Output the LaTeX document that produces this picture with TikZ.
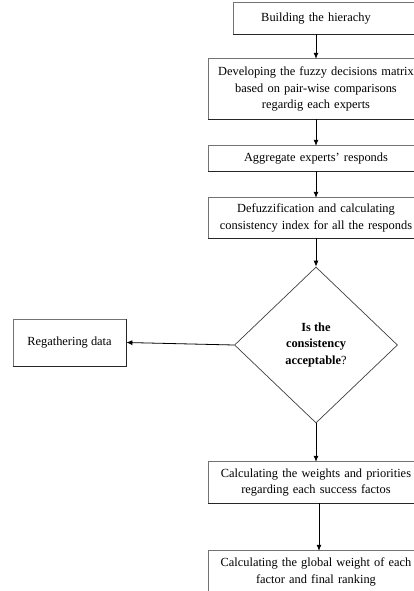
\documentclass[tikz,border=0pt]{standalone}
\usepackage{fontspec}
\setmainfont{Liberation Serif}
\usetikzlibrary{shapes.geometric,arrows.meta}
\pgfdeclarelayer{bg}
\pgfsetlayers{bg,main}
\begin{document}
\begin{tikzpicture}[x=1pt,y=-1pt,
  txt/.style={text width=240pt, align=center, inner sep=0pt,
    font=\fontsize{12.4}{16.3}\selectfont},
  frame/.style={draw=black!55, line width=0.7pt},
  shadowline/.style={draw=black!85, line width=1.1pt},
  arr/.style={-{Latex[length=6pt,width=5pt]}, line width=0.8pt},
  decision/.style={diamond, draw=black!75, line width=0.7pt, inner sep=0pt,
    minimum width=163pt, minimum height=156pt, align=center,
    font=\fontsize{12.4}{16.5}\selectfont},
  sidebox/.style={draw=black!55, line width=0.7pt, minimum width=113pt,
    minimum height=47pt, inner sep=0pt, font=\fontsize{12.4}{16.3}\selectfont}]
\useasboundingbox (0,0) rectangle (413,591);
\begin{pgfonlayer}{bg}
\fill[white] (0,0) rectangle (413,591);
\end{pgfonlayer}
\coordinate (L1) at (233,0);
\coordinate (L) at (208,0);
\coordinate (R) at (430,0);

\node[txt, minimum height=31pt] (b1) at (316,18.5) {Building the hierachy};
\node[txt, minimum height=60pt] (b2) at (316,89) {Developing the fuzzy decisions matrix\\based on pair-wise comparisons\\regardig each experts};
\node[txt, minimum height=25pt] (b3) at (316,158.5) {Aggregate experts' responds};
\node[txt, minimum height=40pt] (b4) at (316,218) {Defuzzification and calculating\\consistency index for all the responds};
\node[decision] (d) at (316,345) {\bfseries Is the\\\bfseries consistency\\{\bfseries acceptable}?};
\node[sidebox] (reg) at (69.5,342.5) {Regathering data};
\node[txt, minimum height=41pt] (b5) at (316,482.5) {Calculating the weights and priorities\\regarding each success factos};
\node[txt, minimum height=42pt] (b6) at (316,572) {Calculating the global weight of each\\factor and final ranking};

\begin{pgfonlayer}{bg}
\draw[frame] (b1.north -| L1) rectangle (b1.south -| R);
\draw[shadowline] (b1.south -| L1) -- (b1.south -| R);
\foreach \b in {b2,b3,b4,b5,b6}{
  \draw[frame] (\b.north -| L) rectangle (\b.south -| R);
  \draw[shadowline] (\b.south -| L) -- (\b.south -| R);
}
\end{pgfonlayer}
\draw[shadowline] (reg.south west) -- (reg.south east) -- (reg.north east);

\draw[arr] (b1.south) -- (b2.north);
\draw[arr] (b2.south) -- (b3.north);
\draw[arr] (b3.south) -- (b4.north);
\draw[arr] (b4.south) -- (d.north);
\draw[arr] (d.west) -- (reg.east);
\draw[arr] (d.south) -- (b5.north);
\draw[arr] ([xshift=3pt]b5.south) -- ([xshift=3pt]b6.north);
\end{tikzpicture}
\end{document}
